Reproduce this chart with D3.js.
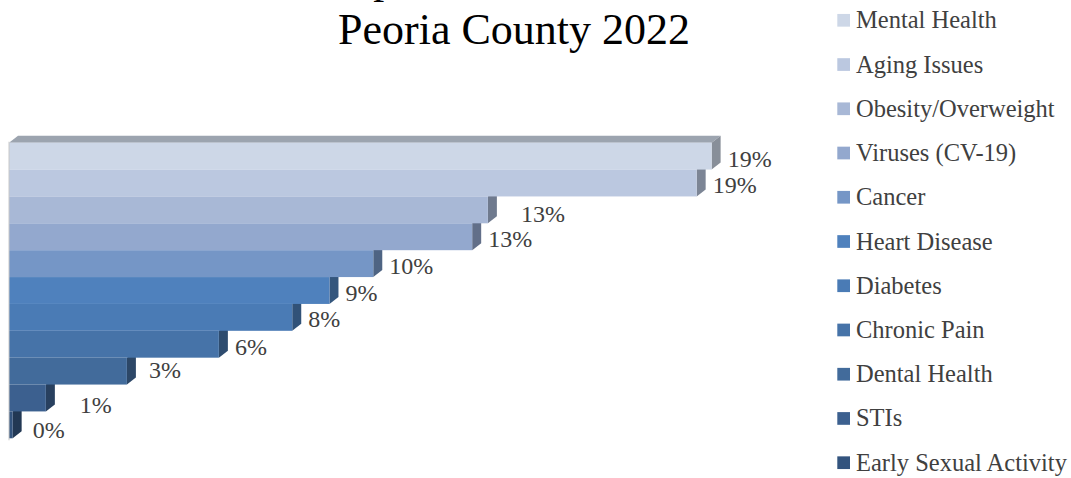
<!DOCTYPE html>
<html>
<head>
<meta charset="utf-8">
<script src="https://cdn.jsdelivr.net/npm/d3@7"></script>
<style>
  html, body { margin: 0; padding: 0; background: #fff; }
  svg { display: block; }
</style>
</head>
<body>
<svg id="chart" width="1071" height="478"></svg>
<script>
// ---- data ----
const categories = ["Mental Health", "Aging Issues", "Obesity/Overweight", "Viruses (CV-19)", "Cancer",
  "Heart Disease", "Diabetes", "Chronic Pain", "Dental Health", "STIs", "Early Sexual Activity"];
const values = [19.25, 18.84, 13.12, 12.69, 9.98, 8.78, 7.76, 5.75, 3.23, 1.01, 0.1];
const colors = ["#CDD7E7", "#BBC8E0", "#A8B8D6", "#93A8CE", "#7596C6", "#4F81BD",
  "#4A7BB5", "#4673A8", "#426B9B", "#3C608F", "#33547E"];
const titleLines = ["Top Health Concerns", "Peoria County 2022"];
// small label nudges (Excel-style label placement quirks)
const labelNudgeX = [0, 0, 17, 0, 0, 0, 0, 0, 6, 18, 4];
const labelNudgeY = [0, 0, 2, 0, 0, 0, -1, 0, -4, 5, 3];

const svg = d3.select("#chart");
const serif = "'Liberation Serif', 'Times New Roman', serif";

const x = d3.scaleLinear().domain([0, 20]).range([9, 739]);
const y = d3.scaleBand().domain(categories).range([142.7, 438.3]).padding(0);
const depthX = 9, depthY = 7;

// title (first line is cropped off at the top, as in the original)
svg.append("g").selectAll("text").data(titleLines).join("text")
  .attr("x", 514)
  .attr("y", (d, i) => i === 0 ? -7 : 44)
  .attr("text-anchor", "middle")
  .attr("font-family", serif)
  .attr("font-size", 44)
  .attr("fill", "#000")
  .text(d => d);

const bars = categories.map((c, i) => ({ c, v: values[i], col: colors[i], i }));
const g = svg.append("g");

// top face for the first bar only (others hidden by the bar above)
const first = bars[0];
g.append("path")
  .attr("d", () => {
    const x0 = x(0), x1 = x(first.v), yt = y(first.c);
    return `M${x0},${yt}L${x1},${yt}L${x1 + depthX},${yt - depthY}L${x0 + depthX},${yt - depthY}Z`;
  })
  .attr("fill", "#9CA4AF");

// side faces
g.selectAll(".side").data(bars).join("path")
  .attr("class", "side")
  .attr("d", d => {
    const x1 = x(d.v), yt = y(d.c), yb = yt + y.bandwidth();
    return `M${x1},${yt}L${x1 + depthX},${yt - depthY}L${x1 + depthX},${yb - depthY}L${x1},${yb}Z`;
  })
  .attr("fill", d => d3.color(d.col).darker(1.15));

// front faces
g.selectAll(".front").data(bars).join("rect")
  .attr("class", "front")
  .attr("x", x(0))
  .attr("y", d => y(d.c))
  .attr("width", d => x(d.v) - x(0))
  .attr("height", y.bandwidth())
  .attr("fill", d => d.col);

// left edge line
g.append("line")
  .attr("x1", x(0)).attr("x2", x(0))
  .attr("y1", y.range()[0] - 1).attr("y2", y.range()[1] + 2)
  .attr("stroke", "#C8C8C8").attr("stroke-width", 1);

// data labels
g.selectAll(".lbl").data(bars).join("text")
  .attr("class", "lbl")
  .attr("x", d => x(d.v) + depthX + 7 + labelNudgeX[d.i])
  .attr("y", d => y(d.c) + y.bandwidth() / 2 + 2 + labelNudgeY[d.i])
  .attr("dy", "0.35em")
  .attr("font-family", serif)
  .attr("font-size", 24)
  .attr("fill", "#404040")
  .text(d => d3.format(".0f")(d.v) + "%");

// legend
const legend = svg.append("g");
const lg = legend.selectAll("g").data(bars).join("g")
  .attr("transform", d => `translate(837.3, ${20.3 + 44.24 * d.i})`);
lg.append("rect")
  .attr("x", 0).attr("y", -6.35)
  .attr("width", 12.7).attr("height", 12.7)
  .attr("fill", d => d.col);
lg.append("text")
  .attr("x", 18.7).attr("y", 8)
  .attr("font-family", serif)
  .attr("font-size", 24.5)
  .attr("fill", "#404040")
  .text(d => d.c);
</script>
</body>
</html>
